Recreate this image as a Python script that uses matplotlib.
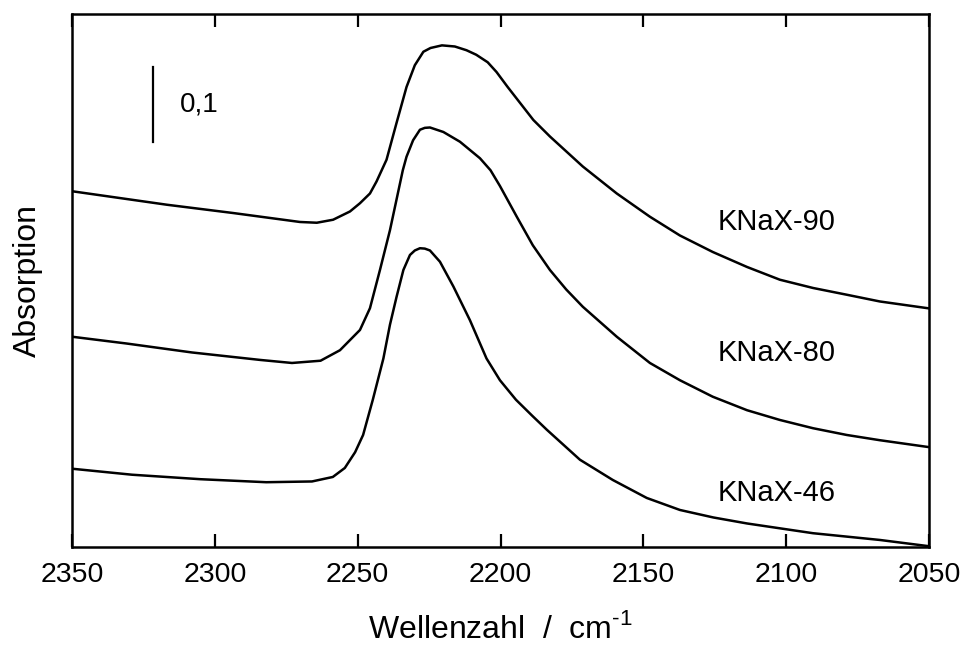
"""
IR spectra of CO adsorbed on KNaX samples (Absorption vs Wellenzahl).
"""

import matplotlib
import matplotlib.pyplot as plt

matplotlib.rcParams["font.family"] = ["Liberation Sans", "DejaVu Sans"]
matplotlib.rcParams["mathtext.fontset"] = "custom"
matplotlib.rcParams["mathtext.rm"] = "Liberation Sans"

# Spectra (wavenumber in cm-1, absorbance with offset)
wn_90 = [2350.0, 2316.8, 2293.7, 2270.2, 2264.3, 2258.6, 2252.7, 2249.2, 2245.7,
         2243.4, 2239.9, 2236.4, 2232.9, 2230.0, 2227.0, 2224.5, 2220.5, 2216.0,
         2211.9, 2208.5, 2204.5, 2201.4, 2197.5, 2193.0, 2188.5, 2182.7, 2171.2,
         2159.3, 2147.7, 2137.2, 2125.7, 2113.7, 2102.2, 2090.6, 2078.8, 2067.2,
         2050.4]
abs_90 = [0.474, 0.456, 0.445, 0.433, 0.432, 0.436, 0.447, 0.458, 0.471,
          0.487, 0.516, 0.565, 0.613, 0.642, 0.660, 0.665, 0.6685, 0.667,
          0.662, 0.656, 0.646, 0.633, 0.613, 0.591, 0.569, 0.547, 0.507,
          0.471, 0.440, 0.415, 0.393, 0.373, 0.356, 0.345, 0.336, 0.327,
          0.318]

wn_80 = [2350.0, 2331.0, 2308.0, 2284.0, 2273.0, 2263.0, 2256.2, 2249.2, 2245.7,
         2242.2, 2238.7, 2234.2, 2232.9, 2230.6, 2228.2, 2226.5, 2224.7, 2220.0,
         2214.2, 2207.2, 2203.5, 2200.2, 2194.3, 2188.7, 2182.7, 2177.0, 2171.2,
         2159.3, 2147.7, 2137.2, 2125.7, 2113.7, 2102.2, 2090.6, 2078.8, 2067.2,
         2050.4]
abs_80 = [0.280, 0.271, 0.259, 0.249, 0.245, 0.248, 0.262, 0.289, 0.318,
          0.369, 0.422, 0.502, 0.520, 0.542, 0.556, 0.5585, 0.559, 0.553,
          0.540, 0.518, 0.502, 0.481, 0.440, 0.402, 0.369, 0.343, 0.320,
          0.280, 0.245, 0.222, 0.200, 0.182, 0.169, 0.158, 0.149, 0.142,
          0.133]

wn_46 = [2350.0, 2329.0, 2305.0, 2282.0, 2266.0, 2258.7, 2254.5, 2250.9, 2248.1,
         2244.7, 2241.0, 2238.7, 2236.4, 2234.0, 2231.7, 2230.0, 2228.2, 2226.5,
         2224.7, 2221.2, 2216.5, 2210.7, 2204.9, 2200.2, 2194.6, 2189.0, 2183.8,
         2172.2, 2160.7, 2148.8, 2137.2, 2125.5, 2113.7, 2090.6, 2067.2, 2050.7]
abs_46 = [0.104, 0.096, 0.090, 0.086, 0.087, 0.093, 0.105, 0.126, 0.149,
          0.196, 0.251, 0.296, 0.333, 0.369, 0.389, 0.395, 0.398, 0.3975,
          0.395, 0.380, 0.347, 0.302, 0.251, 0.222, 0.196, 0.175, 0.156,
          0.116, 0.089, 0.065, 0.049, 0.039, 0.031, 0.018, 0.009, 0.001]

series = [
    ("KNaX-90", wn_90, abs_90, 0.433),
    ("KNaX-80", wn_80, abs_80, 0.258),
    ("KNaX-46", wn_46, abs_46, 0.071),
]
label_x = 2124

# scale bar (0,1 absorbance units)
scale_x = [2321.6, 2321.6]
scale_y = [0.5396, 0.6396]
scale_text = "0,1"

x_ticks = [2350, 2300, 2250, 2200, 2150, 2100, 2050]

fig = plt.figure(figsize=(9.64, 6.46), dpi=100)
ax = fig.add_axes([0.0747, 0.1537, 0.8890, 0.8246])

for name, wn, ab, ly in series:
    ax.plot(wn, ab, color="black", linewidth=1.8, solid_joinstyle="round")
    ax.text(label_x, ly, name, fontsize=21, ha="left", va="center")

ax.plot(scale_x, scale_y, color="black", linewidth=1.6)
ax.text(2312.2, 0.589, scale_text, fontsize=20, ha="left", va="center")

ax.set_xlim(2350, 2050)
ax.set_ylim(0, 0.7103)
ax.set_xticks(x_ticks)
ax.set_xticklabels([str(t) for t in x_ticks])
ax.set_yticks([])
ax.tick_params(axis="x", direction="in", top=True, length=9.5, width=1.6,
               pad=11, labelsize=20.5)

for sp in ax.spines.values():
    sp.set_linewidth(1.8)

ax.set_xlabel(r"Wellenzahl  /  cm$^{\text{-1}}$", fontsize=23, labelpad=18)
ax.set_ylabel("Absorption", fontsize=23, labelpad=21)

fig.savefig("out.png", dpi=100)
plt.close(fig)
